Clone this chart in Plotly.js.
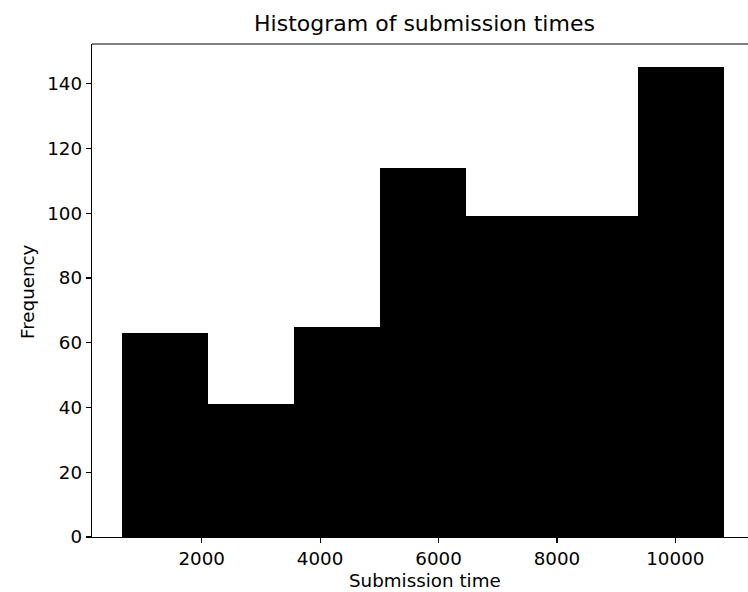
<!DOCTYPE html>
<html>
<head>
<meta charset="utf-8">
<script src="https://cdn.plot.ly/plotly-3.0.1.min.js"></script>
<style>html,body{margin:0;padding:0;background:#fff;}#chart{width:748px;height:592px;}</style>
</head>
<body>
<div id="chart"></div>
<script>
// Histogram data
const binStart = 655;      // left edge of first bin
const binWidth = 1452;     // width of each bin
const counts = [63, 41, 65, 114, 99, 99, 145];
const xTickVals = [2000, 4000, 6000, 8000, 10000];
const yTickVals = [0, 20, 40, 60, 80, 100, 120, 140];

const leftEdges = counts.map((_, i) => binStart + i * binWidth);
const xMin = binStart, xMax = binStart + counts.length * binWidth;
const pad = 0.05 * (xMax - xMin);
const yMax = Math.max(...counts) * 1.05;

const font = "DejaVu Sans, sans-serif";
const tickSize = 18.3;

const trace = {
  type: 'bar',
  x: leftEdges,
  y: counts,
  width: counts.map(() => binWidth),
  offset: 0,
  marker: {color: '#000000', line: {width: 0}},
  hoverinfo: 'x+y'
};

const layout = {
  width: 748, height: 592,
  margin: {l: 92, r: 0, t: 44, b: 55},
  paper_bgcolor: '#ffffff', plot_bgcolor: '#ffffff',
  showlegend: false,
  bargap: 0,
  font: {family: font, color: '#000', size: tickSize},
  title: {text: 'Histogram of submission times', font: {family: font, size: 22, color: '#000'},
          x: 424.5/748, xanchor: 'center', xref: 'container', y: 1 - 23/592, yanchor: 'middle', yref: 'container'},
  xaxis: {
    range: [xMin - pad, xMin - pad + (748 - 92) / 0.0592],
    tickvals: xTickVals, ticktext: xTickVals.map(String),
    ticks: 'outside', ticklen: 5, tickwidth: 1.2, tickcolor: '#000',
    showline: true, linecolor: '#000', linewidth: 1.2,
    showgrid: false, zeroline: false,
    tickfont: {family: font, size: tickSize, color: '#000'}
  },
  yaxis: {
    range: [0, yMax],
    tickvals: yTickVals, ticktext: yTickVals.map(String),
    ticks: 'outside', ticklen: 5, tickwidth: 1.2, tickcolor: '#000',
    showline: true, linecolor: '#000', linewidth: 1.2,
    showgrid: false, zeroline: false,
    tickfont: {family: font, size: tickSize, color: '#000'}
  },
  shapes: [{type: 'line', xref: 'paper', yref: 'paper', x0: 0, x1: 1, y0: 1, y1: 1,
            line: {color: '#000', width: 1.2}}],
  annotations: [
    {text: 'Submission time', xref: 'paper', yref: 'paper',
     x: (424.5 - 92) / (748 - 92), y: -(580 - 537) / (537 - 44), xanchor: 'center', yanchor: 'middle',
     showarrow: false, font: {family: font, size: tickSize, color: '#000'}},
    {text: 'Frequency', xref: 'paper', yref: 'paper', textangle: -90,
     x: -(92 - 27.5) / (748 - 92), y: (537 - 291.5) / (537 - 44), xanchor: 'center', yanchor: 'middle',
     showarrow: false, font: {family: font, size: tickSize, color: '#000'}}
  ]
};

Plotly.newPlot('chart', [trace], layout, {displayModeBar: false, staticPlot: true});
</script>
</body>
</html>
